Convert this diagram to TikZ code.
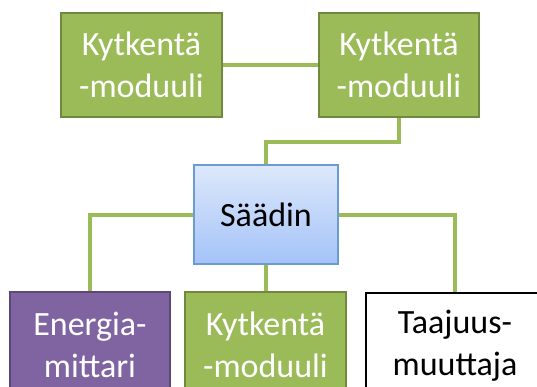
\documentclass[tikz,border=0pt]{standalone}
\usepackage{fontspec}
\setmainfont{Carlito}
\begin{document}
\definecolor{mgreen}{HTML}{9BBB59}
\definecolor{mgreenline}{HTML}{71893F}
\definecolor{mpurple}{HTML}{8064A2}
\definecolor{mpurpleline}{HTML}{5C4776}
\definecolor{sblue}{HTML}{6C9BD2}
\definecolor{stop}{HTML}{DDE8FB}
\definecolor{sbot}{HTML}{A4C3F8}
\begin{tikzpicture}[x=1pt,y=-1pt,
  box/.style={rectangle, inner sep=0pt, align=center,
    font=\fontsize{34}{42}\selectfont},
  greenbox/.style={box, fill=mgreen, draw=mgreenline, line width=2.5pt, text=white},
  purplebox/.style={box, fill=mpurple, draw=mpurpleline, line width=2.5pt, text=white},
  whitebox/.style={box, fill=white, draw=black, line width=2.5pt, text=black},
  ctrlbox/.style={box, top color=stop, bottom color=sbot, draw=sblue, line width=1.2pt, text=black},
  link/.style={draw=mgreen, line width=4pt}]
\useasboundingbox (0,0) rectangle (537,387);
\clip (0,0) rectangle (537,387);

% upper pair of switch modules
\node[greenbox, minimum width=161pt, minimum height=104pt] (tl) at (141.5,65) {Kytkentä\\-moduuli};
\node[greenbox, minimum width=160pt, minimum height=104pt] (tr) at (399,65) {Kytkentä\\-moduuli};

% controller
\node[ctrlbox, minimum width=144pt, minimum height=99pt] (sa) at (266,214.5) {Säädin};

% lower row
\node[purplebox, minimum width=160pt, minimum height=106pt] (en) at (90,345) {Energia-\\mittari};
\node[greenbox, minimum width=161pt, minimum height=106pt] (km) at (265.5,345) {Kytkentä\\-moduuli};
\node[whitebox, minimum width=178pt, minimum height=105pt] (ta) at (455,345.5) {Taajuus-\\muuttaja};

% connectors
\draw[link] (tl.east) -- (tr.west);
\draw[link] (tr.south) -- ++(0,24) -| (sa.north);
\draw[link] (sa.west) -| (en.north);
\draw[link] (sa.east) -| (ta.north);
\draw[link] (sa.south) -- (sa.south |- km.north);
\end{tikzpicture}
\end{document}
